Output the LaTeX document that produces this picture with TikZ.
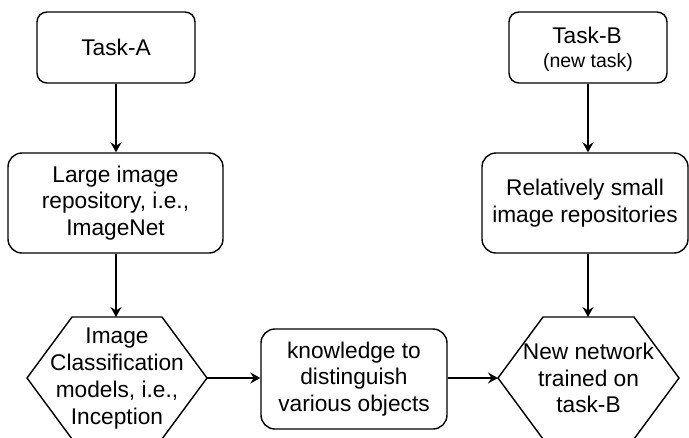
\documentclass[tikz,border=0pt]{standalone}
\usepackage{fontspec}
\setmainfont{Liberation Sans}
\usetikzlibrary{arrows.meta}
\begin{document}
\begin{tikzpicture}[x=1pt,y=-1pt,
  every node/.style={font=\fontsize{22.7}{26.8}\selectfont, align=center, inner sep=0pt},
  rbox/.style={draw, line width=1.4pt, rounded corners=#1},
  hexline/.style={draw, line width=1.4pt, line join=miter},
  conn/.style={line width=1.4pt, -{Stealth[length=10pt,width=11pt,inset=3.5pt]}}]
\useasboundingbox (0,0) rectangle (689,437);
\clip (0,0) rectangle (689,437);
% boxes
\node[rbox=10pt, minimum width=158pt, minimum height=71pt] (taskA) at (116,47.5) {Task-A};
\node[rbox=14pt, minimum width=215pt, minimum height=100pt] (large) at (115.5,203) {Large image\\repository, i.e.,\\ImageNet};
\node[rbox=10pt, minimum width=158pt, minimum height=71pt] (taskB) at (588,47.5) {};
\node (taskBt) at (587,35.5) {Task-B};
\node[font=\fontsize{19.5}{22}\selectfont] (taskBs) at (588,62) {(new task)};
\node[rbox=14pt, minimum width=206pt, minimum height=100pt] (small) at (585,203) {Relatively small\\image repositories};
\node[rbox=14pt, minimum width=186pt, minimum height=100pt] (know) at (354,379) {knowledge to\\distinguish\\various objects};
% hexagon A
\coordinate (hAW) at (27,378);
\coordinate (hANW) at (72,317);
\coordinate (hANE) at (162,317);
\coordinate (hAE) at (207,378);
\coordinate (hASE) at (162,439);
\coordinate (hASW) at (72,439);
\draw[hexline] (hAW) -- (hANW) -- (hANE) -- (hAE) -- (hASE) -- (hASW) -- cycle;
\node (hexA) at (117,378.5) {Image\\Classification\\models, i.e.,\\Inception};
% hexagon B
\coordinate (hBW) at (498,378);
\coordinate (hBNW) at (543,317);
\coordinate (hBNE) at (634,317);
\coordinate (hBE) at (679,378);
\coordinate (hBSE) at (634,439);
\coordinate (hBSW) at (543,439);
\draw[hexline] (hBW) -- (hBNW) -- (hBNE) -- (hBE) -- (hBSE) -- (hBSW) -- cycle;
\node (hexB) at (588.5,378) {New network\\trained on\\task-B};
% connectors
\draw[conn] (taskA.south) -- (large.north -| taskA.south);
\draw[conn] (large.south -| taskA.south) -- (hANW -| taskA.south);
\draw[conn] (hAE) -- (know.west |- hAE);
\draw[conn] (know.east |- hAE) -- (hBW);
\draw[conn] (taskB.south) -- (small.north -| taskB.south);
\draw[conn] (small.south -| taskB.south) -- (hBNW -| taskB.south);
\end{tikzpicture}
\end{document}
